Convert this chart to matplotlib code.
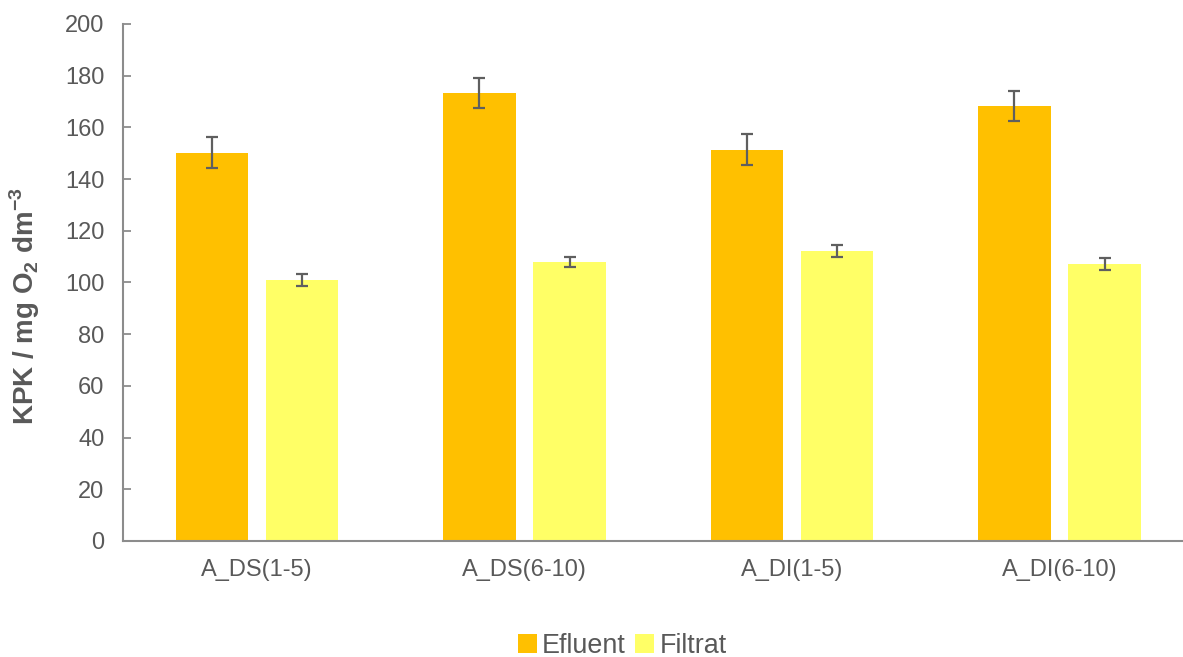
import matplotlib
matplotlib.use("Agg")
import matplotlib.pyplot as plt
import numpy as np

categories = ["A_DS(1-5)", "A_DS(6-10)", "A_DI(1-5)", "A_DI(6-10)"]
efluent = [150.2, 173.3, 151.3, 168.2]
efluent_err = [6.0, 5.9, 6.0, 5.9]
filtrat = [101.0, 108.0, 112.2, 107.2]
filtrat_err = [2.3, 2.0, 2.4, 2.3]
series_names = ["Efluent", "Filtrat"]
yticks = [0, 20, 40, 60, 80, 100, 120, 140, 160, 180, 200]

plt.rcParams['font.family'] = ['Liberation Sans', 'DejaVu Sans']
plt.rcParams['mathtext.fontset'] = 'custom'
plt.rcParams['mathtext.rm'] = 'Liberation Sans'
plt.rcParams['mathtext.bf'] = 'Liberation Sans:bold'

text_c = '#595959'
axis_c = '#8c8c8c'
err_c = '#5f5f5f'

fig = plt.figure(figsize=(11.83, 6.57), dpi=100)
ax = fig.add_axes([0.1042, 0.1766, 0.9045, 0.7869])

x = np.arange(len(categories))
w = 0.272
off = 0.1685
ekw = dict(ecolor=err_c, elinewidth=1.6, capsize=4.6, capthick=1.6)
ax.bar(x - off, efluent, w, yerr=efluent_err, color='#FFC000', label=series_names[0], error_kw=ekw, zorder=2)
ax.bar(x + off, filtrat, w, yerr=filtrat_err, color='#FFFF66', label=series_names[1], error_kw=ekw, zorder=2)

ax.set_xlim(-0.5, len(categories) - 0.5)
ax.set_ylim(0, 200)
ax.set_yticks(yticks)
ax.set_xticks(x)
ax.set_xticklabels(categories, fontsize=17, color=text_c)
ax.tick_params(axis='y', labelsize=17, labelcolor=text_c, color=axis_c, length=5.5, width=1.3,
               direction='in', pad=13.5)
ax.tick_params(axis='x', length=0, pad=13)
for s in ['top', 'right']:
    ax.spines[s].set_visible(False)
for s in ['left', 'bottom']:
    ax.spines[s].set_color(axis_c)
    ax.spines[s].set_linewidth(1.5)

ax.set_ylabel(r'KPK / mg O$_\mathbf{2}$ dm$^\mathbf{-3}$', fontsize=20, fontweight='bold', color=text_c)
ax.yaxis.set_label_coords(-0.076, 0.455)

leg = fig.legend(loc='center', bbox_to_anchor=(0.526, 0.017), ncol=2, frameon=False,
                 fontsize=19.4, handlelength=0.7, handleheight=0.7, handletextpad=0.2,
                 columnspacing=0.35, borderaxespad=0)
for t in leg.get_texts():
    t.set_color(text_c)

fig.savefig('out.png', dpi=100)
